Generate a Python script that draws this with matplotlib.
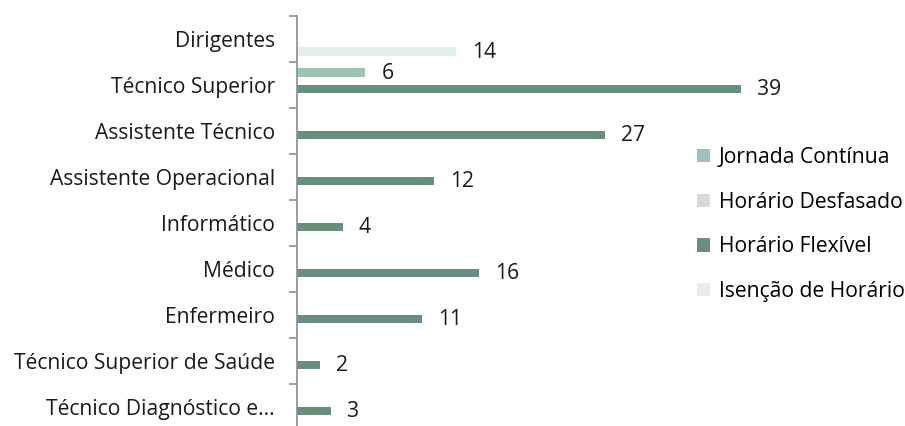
import matplotlib
matplotlib.use("Agg")
import matplotlib.pyplot as plt
from matplotlib.patches import Patch
import numpy as np

categories = ["Dirigentes", "Técnico Superior", "Assistente Técnico",
              "Assistente Operacional", "Informático", "Médico", "Enfermeiro",
              "Técnico Superior de Saúde", "Técnico Diagnóstico e..."]
series = ["Jornada Contínua", "Horário Desfasado", "Horário Flexível", "Isenção de Horário"]
jornada_continua = [0, 6, 0, 0, 0, 0, 0, 0, 0]
horario_desfasado = [0, 0, 0, 0, 0, 0, 0, 0, 0]
horario_flexivel = [0, 39, 27, 12, 4, 16, 11, 2, 3]
isencao_horario = [14, 0, 0, 0, 0, 0, 0, 0, 0]

values = [jornada_continua, horario_desfasado, horario_flexivel, isencao_horario]
colors = ["#9ec4b0", "#d9d9d9", "#66907c", "#e3efe9"]

plt.rcParams["font.family"] = ["Open Sans", "DejaVu Sans"]
FS = 15.2

W, H = 905, 426
fig = plt.figure(figsize=(W / 100, H / 100), dpi=100)
left, right = 297, 752.7
top, bottom = 16, 430
ax = fig.add_axes([left / W, (H - bottom) / H, (right - left) / W, (bottom - top) / H])

y = np.arange(len(categories))
slot = 0.18
for j, (name, vals, c) in enumerate(zip(series, values, colors)):
    pos = y + (j - 1.5) * slot
    ax.barh(pos, vals, height=slot, color=c, label=name)
    for p, v in zip(pos, vals):
        if v:
            ax.annotate(str(v), (v, p), xytext=(11.5, -0.5), textcoords="offset points",
                        va="center", ha="left", fontsize=FS, color="#1a1a1a")

ax.set_xlim(0, 40)
ax.set_ylim(len(categories) - 0.5, -0.5)
ax.set_yticks(y)
ax.set_yticklabels(categories, fontsize=FS, color="#1a1a1a")
ax.set_yticks(np.arange(len(categories) + 1) - 0.5, minor=True)
ax.tick_params(axis="y", which="major", length=0, pad=16)
ax.tick_params(axis="y", which="minor", length=6, width=1.2, color="#8c8c8c")
ax.set_xticks([])
for s in ["top", "right", "bottom"]:
    ax.spines[s].set_visible(False)
ax.spines["left"].set_color("#8c8c8c")
ax.spines["left"].set_linewidth(1.2)

handles = [Patch(facecolor=c, edgecolor="none") for c in colors]
fig.legend(handles, series, loc="upper left", bbox_to_anchor=(697 / W, 1 - 147 / H),
           frameon=False, fontsize=FS, handlelength=0.6, handleheight=0.6,
           handletextpad=0.42, labelspacing=1.12, borderaxespad=0, borderpad=0)

fig.savefig("out.png", dpi=100)
